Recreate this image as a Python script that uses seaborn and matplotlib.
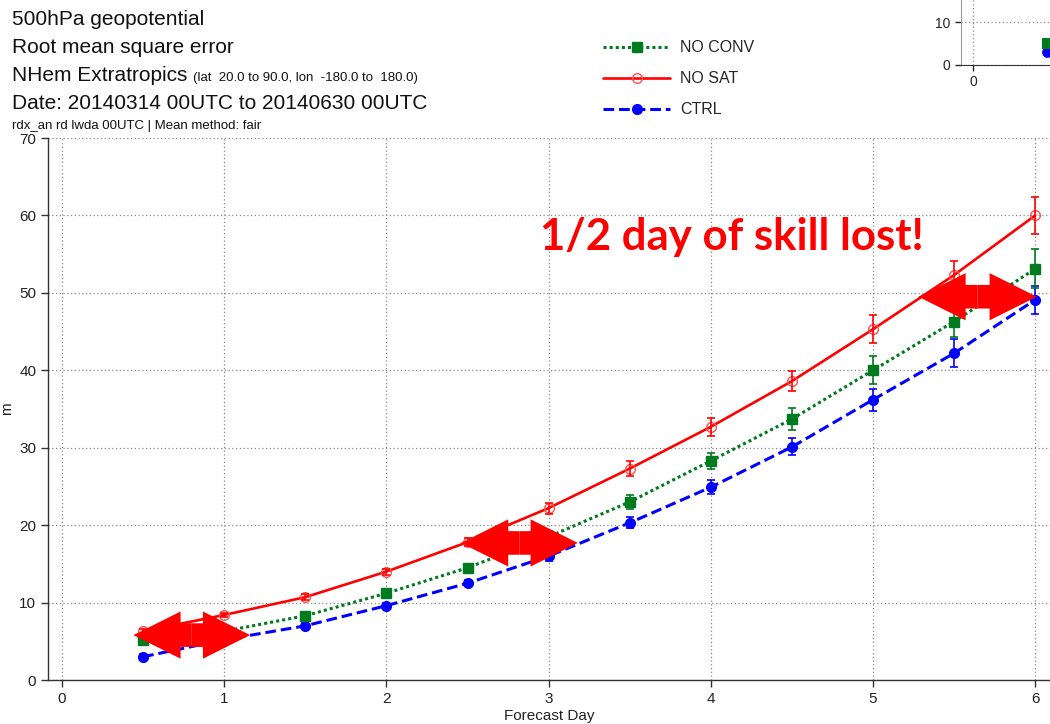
import numpy as np
import pandas as pd
import matplotlib
matplotlib.use("Agg")
import matplotlib.pyplot as plt
import seaborn as sns
from matplotlib.patches import FancyArrowPatch
from matplotlib.lines import Line2D

# ---------------- data ----------------
days = [0.5, 1.0, 1.5, 2.0, 2.5, 3.0, 3.5, 4.0, 4.5, 5.0, 5.5, 6.0]
no_conv = [5.2, 6.3, 8.3, 11.2, 14.5, 18.5, 23.0, 28.3, 33.7, 40.0, 46.3, 53.1]
no_sat = [6.3, 8.4, 10.7, 14.0, 17.8, 22.2, 27.3, 32.7, 38.6, 45.3, 52.3, 60.0]
ctrl = [3.0, 5.2, 7.0, 9.6, 12.5, 16.0, 20.3, 24.9, 30.1, 36.2, 42.2, 49.1]
no_conv_err = [0.3, 0.3, 0.4, 0.4, 0.5, 0.7, 0.9, 1.0, 1.4, 1.8, 2.0, 2.5]
no_sat_err = [0.3, 0.3, 0.4, 0.4, 0.5, 0.7, 1.0, 1.2, 1.3, 1.8, 1.8, 2.4]
ctrl_err = [0.3, 0.3, 0.3, 0.4, 0.4, 0.6, 0.7, 0.9, 1.1, 1.4, 1.8, 1.8]
series_names = ["NO CONV", "NO SAT", "CTRL"]
x_ticks = [0, 1, 2, 3, 4, 5, 6]
y_ticks = [0, 10, 20, 30, 40, 50, 60, 70]
# arrows: (x_start, x_end, y)
arrows = [(0.44, 1.16, 5.8), (2.46, 3.18, 17.7), (5.28, 6.01, 49.5)]
annotation_text = "1/2 day of skill lost!"
title_lines = ["500hPa geopotential", "Root mean square error"]
region_main = "NHem Extratropics"
region_sub = "(lat  20.0 to 90.0, lon  -180.0 to  180.0)"
date_line = "Date: 20140314 00UTC to 20140630 00UTC"
info_line = "rdx_an rd lwda 00UTC | Mean method: fair"

# ---------------- style ----------------
sns.set_style("white")
plt.rcParams["font.family"] = ["Liberation Sans", "DejaVu Sans"]

W, H = 1050, 724
fig = plt.figure(figsize=(W / 100, H / 100), dpi=100)

def fx(px):
    return px / W

def fy(py):
    return 1 - py / H

ax = fig.add_axes([fx(48), fy(680), fx(1002), (680 - 138) / H])

df = pd.DataFrame({
    "day": days * 3,
    "rmse": no_conv + no_sat + ctrl,
    "exp": [series_names[0]] * len(days) + [series_names[1]] * len(days) + [series_names[2]] * len(days),
})

styles = {
    "NO CONV": dict(color="#007a1e", ls=(0, (1, 1)), marker="s", mfc="#007a1e", mec="#007a1e", err=no_conv_err, ms=7, lw=2.2),
    "NO SAT": dict(color="#ff0000", ls="-", marker="o", mfc="none", mec="#ff5050", err=no_sat_err, ms=7, lw=1.9),
    "CTRL": dict(color="#0000ff", ls=(0, (3.5, 1.6)), marker="o", mfc="#0000ff", mec="#0000ff", err=ctrl_err, ms=7, lw=2.2),
}

for name in ["CTRL", "NO CONV", "NO SAT"]:
    st = styles[name]
    sub = df[df["exp"] == name]
    sns.lineplot(data=sub, x="day", y="rmse", ax=ax, color=st["color"], linestyle=st["ls"],
                 linewidth=st["lw"], marker=st["marker"], markersize=st["ms"],
                 markerfacecolor=st["mfc"], markeredgecolor=st["mec"], markeredgewidth=1.0,
                 legend=False, zorder=3)
    ax.errorbar(sub["day"], sub["rmse"], yerr=st["err"], fmt="none", ecolor=st["color"],
                elinewidth=1.2, capsize=3, capthick=1.2, zorder=3)

leg_handles = [Line2D([], [], color=styles[n]["color"], linestyle=styles[n]["ls"],
                      linewidth=styles[n]["lw"], marker=styles[n]["marker"],
                      markersize=7, markerfacecolor=styles[n]["mfc"], markeredgecolor=styles[n]["mec"])
               for n in series_names]
leg = fig.legend(leg_handles, series_names, loc="upper left", bbox_to_anchor=(fx(597), fy(34)),
                 frameon=False, fontsize=11.5, handlelength=4.2, handletextpad=0.6,
                 labelspacing=1.0, borderaxespad=0)

ax.set_xlim(-14 / 162.2, (1050 - 62) / 162.2)
ax.set_ylim(0, 70)
ax.set_xticks(x_ticks)
ax.set_yticks(y_ticks)
ax.grid(True, color="#888888", linestyle=(0, (1, 2)), linewidth=0.9)
for s in ["top", "right"]:
    ax.spines[s].set_visible(False)
for s in ["left", "bottom"]:
    ax.spines[s].set_color("#333333")
    ax.spines[s].set_linewidth(1.0)
ax.tick_params(axis="both", direction="out", length=5, width=1, color="#333333",
               labelsize=11, labelcolor="#222222", left=True, bottom=True)
ax.set_xlabel("Forecast Day", fontsize=11, labelpad=2, color="#222222")
ax.set_ylabel("m", fontsize=11, color="#222222")
ax.yaxis.set_label_coords((14 - 48) / 1002, 0.5)

# arrows
for x0, x1, yv in arrows:
    xc = (x0 + x1) / 2
    for xe in (x0, x1):
        ap = FancyArrowPatch((xc, yv), (xe, yv),
                             arrowstyle="simple,head_length=3.4,head_width=3.4,tail_width=1.7",
                             mutation_scale=10, color="#ff0000", shrinkA=0, shrinkB=0,
                             linewidth=0, zorder=6)
        ax.add_patch(ap)

fig.text(fx(540), fy(250), annotation_text, color="#ff0000", fontsize=31.5, fontweight="bold",
         family=["Lato", "DejaVu Sans"], ha="left", va="baseline")

# titles
fig.text(fx(12), fy(25), title_lines[0], fontsize=15, ha="left", va="baseline", color="#111111")
fig.text(fx(12), fy(53), title_lines[1], fontsize=15, ha="left", va="baseline", color="#111111")
t = fig.text(fx(12), fy(81), region_main, fontsize=15, ha="left", va="baseline", color="#111111")
fig.canvas.draw()
bb = t.get_window_extent()
fig.text((bb.x1 + 6) / W, fy(81), region_sub, fontsize=9.5, ha="left", va="baseline", color="#111111")
fig.text(fx(12), fy(109), date_line, fontsize=15, ha="left", va="baseline", color="#111111")
fig.text(fx(12), fy(129), info_line, fontsize=9.5, ha="left", va="baseline", color="#111111")

# inset (partially visible)
iax = fig.add_axes([fx(961), fy(65), 0.2, 86 / H])
iax.set_xlim(-12 / 148, -12 / 148 + 210 / 148)
iax.set_ylim(0, 20)
for name in ["CTRL", "NO CONV"]:
    st = styles[name]
    sub = df[df["exp"] == name]
    sns.lineplot(data=sub, x="day", y="rmse", ax=iax, color=st["color"], linestyle=st["ls"],
                 linewidth=2, marker=st["marker"], markersize=7, markerfacecolor=st["mfc"],
                 markeredgecolor=st["mec"], legend=False)
iax.set_xticks([0])
iax.set_yticks([0, 10])
iax.grid(True, color="#888888", linestyle=(0, (1, 2)), linewidth=0.9)
for s in ["top", "right"]:
    iax.spines[s].set_visible(False)
iax.spines["left"].set_color("#999999")
iax.spines["bottom"].set_color("#333333")
iax.tick_params(axis="both", direction="out", length=4, width=1, labelsize=10, left=True, bottom=True)
iax.set_xlabel("")
iax.set_ylabel("")

fig.savefig("out.png", dpi=100)
